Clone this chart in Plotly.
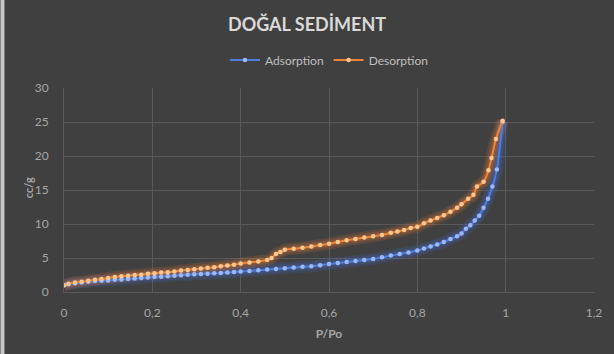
import plotly.graph_objects as go

ads_x = [0.0, 0.01, 0.025, 0.04, 0.055, 0.07, 0.085, 0.10, 0.115, 0.13, 0.145, 0.16, 0.175, 0.19,
         0.205, 0.22, 0.235, 0.25, 0.265, 0.28, 0.295, 0.31, 0.325, 0.34, 0.355, 0.37, 0.385, 0.40,
         0.42, 0.44, 0.46, 0.48, 0.50, 0.52, 0.54, 0.56, 0.58, 0.60, 0.62, 0.64, 0.66, 0.68, 0.70,
         0.72, 0.74, 0.76, 0.78, 0.80, 0.815, 0.83, 0.845, 0.86, 0.875, 0.89, 0.90, 0.91, 0.92,
         0.93, 0.94, 0.95, 0.96, 0.97, 0.98, 0.993]
ads_y = [1.0, 1.15, 1.3, 1.4, 1.5, 1.6, 1.65, 1.7, 1.8, 1.85, 1.9, 2.0, 2.05, 2.15,
         2.2, 2.25, 2.3, 2.4, 2.45, 2.55, 2.6, 2.65, 2.7, 2.75, 2.8, 2.85, 2.95, 3.0,
         3.1, 3.2, 3.3, 3.4, 3.5, 3.6, 3.7, 3.8, 3.95, 4.1, 4.25, 4.4, 4.55, 4.7, 4.85,
         5.1, 5.35, 5.6, 5.8, 6.1, 6.4, 6.7, 7.0, 7.35, 7.8, 8.2, 8.6, 9.3, 9.8,
         10.5, 11.2, 12.4, 13.7, 15.5, 18.0, 25.0]

des_x = [0.993, 0.978, 0.968, 0.961, 0.95, 0.935, 0.927, 0.915, 0.90, 0.89, 0.875, 0.86, 0.845,
         0.83, 0.815, 0.80, 0.785, 0.77, 0.755, 0.74, 0.72, 0.70, 0.68, 0.66, 0.64, 0.62, 0.60,
         0.58, 0.56, 0.54, 0.52, 0.50, 0.49, 0.48, 0.47, 0.46, 0.44, 0.42, 0.40, 0.385, 0.37,
         0.355, 0.34, 0.325, 0.31, 0.295, 0.28, 0.265, 0.25, 0.235, 0.22, 0.205, 0.19, 0.175,
         0.16, 0.145, 0.13, 0.115, 0.10, 0.085, 0.07, 0.055, 0.04, 0.025, 0.01, 0.0]
des_y = [25.2, 22.5, 19.7, 17.9, 16.2, 15.5, 14.3, 13.7, 12.9, 12.4, 11.8, 11.3, 10.9,
         10.5, 10.1, 9.6, 9.4, 9.1, 8.9, 8.7, 8.4, 8.2, 8.0, 7.8, 7.6, 7.35, 7.1,
         6.9, 6.7, 6.5, 6.35, 6.2, 5.9, 5.6, 5.0, 4.7, 4.5, 4.35, 4.2, 4.0, 3.9,
         3.8, 3.65, 3.55, 3.45, 3.35, 3.25, 3.15, 3.0, 2.9, 2.85, 2.75, 2.7, 2.55,
         2.5, 2.4, 2.3, 2.2, 2.05, 1.9, 1.8, 1.65, 1.5, 1.4, 1.2, 1.0]

title_text = "DOĞAL SEDİMENT"
x_title = "P/Po"
y_title = "cc/g"

BLUE = "#4D7FE0"
BLUE_M = "#9DB8F5"
ORANGE = "#F08436"
ORANGE_M = "#FBC893"

fig = go.Figure()

# glow layers
for xs, ys, col in [(ads_x, ads_y, "rgba(68,114,220,0.16)"), (des_x, des_y, "rgba(240,125,49,0.16)")]:
    for w in (12, 8, 5):
        fig.add_trace(go.Scatter(x=xs, y=ys, mode="lines", line=dict(color=col, width=w, shape="spline"),
                                 showlegend=False, hoverinfo="skip"))

fig.add_trace(go.Scatter(x=ads_x, y=ads_y, mode="lines+markers", name="Adsorption",
                         line=dict(color=BLUE, width=2, shape="spline"),
                         marker=dict(color=BLUE_M, size=4.5)))
fig.add_trace(go.Scatter(x=des_x, y=des_y, mode="lines+markers", name="Desorption",
                         line=dict(color=ORANGE, width=2, shape="spline"),
                         marker=dict(color=ORANGE_M, size=4.5)))

pw = 534.0
ph = 204.0
fig.update_layout(
    width=614, height=354,
    margin=dict(l=64, r=16, t=88, b=62),
    paper_bgcolor="#404040", plot_bgcolor="#404040",
    separators=",.",
    font=dict(family="Lato", color="#A6A6A6", size=12),
    title=dict(text="<b>" + title_text + "</b>", x=0.5, xanchor="center", y=1 - 25 / 354,
               yanchor="middle", font=dict(size=18, color="#D9D9D9", family="Lato")),
    legend=dict(orientation="h", x=0.5, xanchor="center", y=1 + 28 / ph, yanchor="middle",
                font=dict(size=12, color="#BFBFBF"), bgcolor="rgba(0,0,0,0)",
                itemwidth=30, tracegroupgap=0),
    xaxis=dict(range=[0, 1.2], dtick=0.2, tick0=0, showgrid=True, gridcolor="#595959",
               gridwidth=1, zeroline=False, showline=True, linecolor="#595959",
               ticks="", ticklabelstandoff=10, tickfont=dict(size=12, color="#A6A6A6"),
               title=dict(text="<b>" + x_title + "</b>", font=dict(size=12, color="#A6A6A6"), standoff=10)),
    yaxis=dict(range=[0, 30], dtick=5, showgrid=True, gridcolor="#595959", gridwidth=1,
               zeroline=False, showline=True, linecolor="#595959", ticks="",
               ticklabelstandoff=12, tickfont=dict(size=12, color="#A6A6A6")),
    annotations=[dict(text="<b>" + y_title + "</b>", xref="paper", yref="paper",
                      x=(28 - 64) / pw, y=(292 - 188) / ph, xanchor="center", yanchor="middle",
                      textangle=-90, showarrow=False, font=dict(size=11, color="#A6A6A6"))],
    shapes=[dict(type="rect", xref="paper", yref="paper", x0=-64 / pw, x1=-60 / pw,
                 y0=-62 / ph, y1=1 + 88 / ph, fillcolor="#C8C8C8", line=dict(width=0), layer="above")],
)

fig.write_html("out.html")
